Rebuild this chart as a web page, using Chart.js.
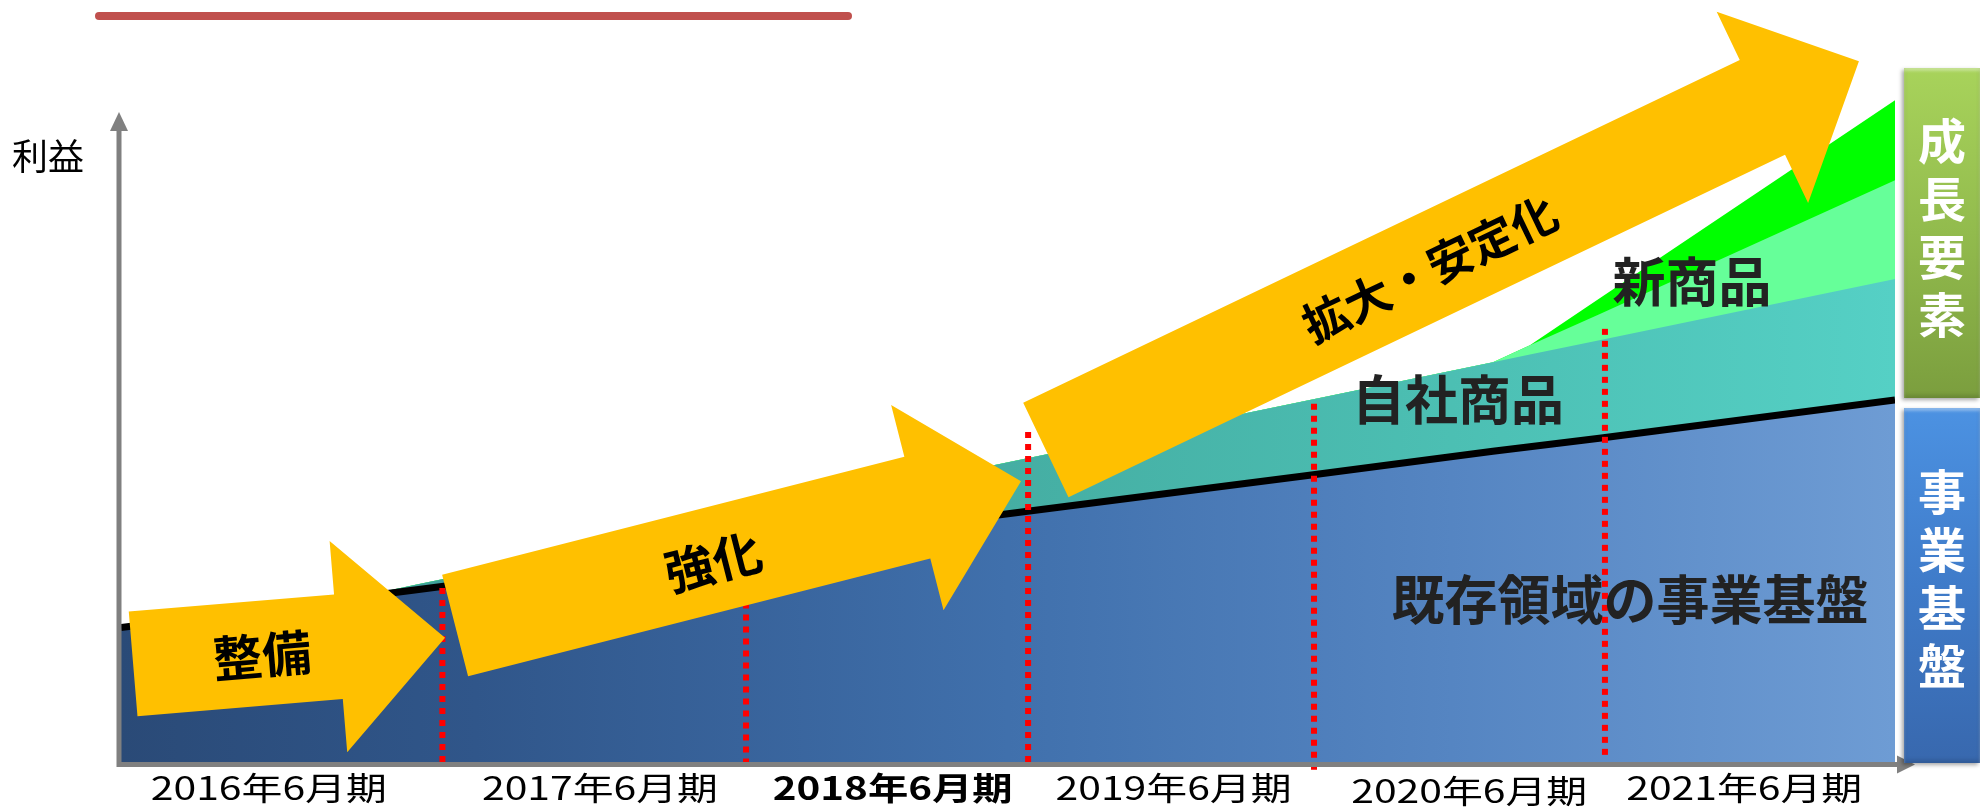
<!DOCTYPE html>
<html lang="ja">
<head>
  <meta charset="UTF-8" />
  <title>利益の成長イメージ</title>
  <script src="https://cdn.jsdelivr.net/npm/chart.js"></script>
  <style>
    html, body {
      margin: 0;
      padding: 0;
      background: #fff;
    }
    body {
      width: 1980px;
      height: 810px;
      overflow: hidden;
      font-family: "Noto Sans CJK JP", sans-serif;
    }
    #wrap {
      position: relative;
      width: 1980px;
      height: 810px;
    }
    #wrap canvas {
      position: absolute;
      left: 0;
      top: 0;
    }
    .title-rule {
      position: absolute;
      left: 95px;
      top: 12px;
      width: 757px;
      height: 8px;
      border-radius: 4px;
      background: #c0504d;
    }
    .y-title {
      position: absolute;
      left: 12px;
      top: 136px;
      font-size: 36px;
      line-height: 36px;
      color: #000;
    }
    .side {
      position: absolute;
      left: 1904px;
      width: 76px;
      box-sizing: border-box;
      color: #fff;
      font-weight: 700;
      font-size: 48px;
      line-height: 58px;
      text-align: center;
      box-shadow: -2px 2px 4px rgba(0, 0, 0, 0.35), inset 0 3px 3px rgba(255, 255, 255, 0.35), inset 0 -3px 4px rgba(0, 0, 0, 0.15);
    }
    .side.growth {
      top: 68px;
      height: 330px;
      padding-top: 41px;
      background: linear-gradient(#a8d35b, #92bb4d 50%, #7b9e3e);
    }
    .side.base {
      top: 408px;
      height: 355px;
      padding-top: 52px;
      background: linear-gradient(#4c92e2, #3f7bc9 50%, #3868ae);
    }
  </style>
</head>
<body>
  <div id="wrap">
    <canvas id="profitChart"></canvas>
    <div class="title-rule"></div>
    <div class="y-title">利益</div>
    <div class="side growth">成<br>長<br>要<br>素</div>
    <div class="side base">事<br>業<br>基<br>盤</div>
  </div>

  <script>
    // 決算期（x軸の目盛り）
    const periods = ["2016年6月期", "2017年6月期", "2018年6月期", "2019年6月期", "2020年6月期", "2021年6月期"];
    const periodCenters = [0.50, 1.62, 2.61, 3.56, 4.56, 5.49];
    const boldPeriod = 2;

    // 各層の値（積み上げ）
    const xs = [0, 0.795, 1, 2, 3, 4, 4.64, 4.765, 5, 6];
    const existingBase = [20.7, 25.3, 26.5, 32.4, 38.2, 44.0, 47.8, 48.5, 49.8, 55.7];
    const ownProducts = [0, 0, 0.8, 4.3, 7.9, 11.5, 13.7, 14.2, 15.1, 18.6];
    const newProducts = [0, 0, 0, 0, 0, 0, 0, 1.4, 4.0, 15.2];
    const growthExtra = [0, 0, 0, 0, 0, 0, 0, 0, 2.4, 12.3];

    // 期の区切り（赤点線）
    const dividerX = [1.087, 2.114, 3.068, 4.035, 5.019];
    const dividerTop = [27.2, 33.1, 51.4, 55.7, 67.2];
    const dividerBottom = [0, -0.4, 0, -1.2, 1.1];

    // 矢印（根元と先端）
    const arrowText = ["整備", "強化", "拡大・安定化"];
    const arrowFrom = [[0.041, 15.1], [1.130, 21.0], [3.128, 48.0]];
    const arrowTo = [[1.096, 19.1], [3.044, 43.2], [5.878, 107.8]];
    const arrowTextAt = [0.413, 0.455, 0.471];

    // 層のラベル
    const layerText = ["自社商品", "新商品", "既存領域の事業基盤"];
    const layerTextX = [4.522, 5.313, 5.104];
    const layerTextY = [55.7, 73.8, 24.9];

    const FONT = '"Noto Sans CJK JP", "Noto Sans CJK SC", sans-serif';

    function hGradient(stops) {
      return (context) => {
        const { ctx, chartArea } = context.chart;
        if (!chartArea) return stops[0][1];
        const g = ctx.createLinearGradient(chartArea.left, 0, chartArea.right, 0);
        stops.forEach(([o, c]) => g.addColorStop(o, c));
        return g;
      };
    }

    function points(values) {
      return xs.map((x, i) => ({ x, y: values[i] }));
    }

    function drawArrow(ctx, t, p) {
      const shaft = 52.5, head = 106, headLen = 107;
      const dx = p[0] - t[0], dy = p[1] - t[1];
      const len = Math.hypot(dx, dy);
      const ux = dx / len, uy = dy / len;
      const nx = -uy, ny = ux;
      const sx = p[0] - ux * headLen, sy = p[1] - uy * headLen;
      ctx.beginPath();
      ctx.moveTo(t[0] + nx * shaft, t[1] + ny * shaft);
      ctx.lineTo(sx + nx * shaft, sy + ny * shaft);
      ctx.lineTo(sx + nx * head, sy + ny * head);
      ctx.lineTo(p[0], p[1]);
      ctx.lineTo(sx - nx * head, sy - ny * head);
      ctx.lineTo(sx - nx * shaft, sy - ny * shaft);
      ctx.lineTo(t[0] - nx * shaft, t[1] - ny * shaft);
      ctx.closePath();
      ctx.fill();
    }

    const overlay = {
      id: "overlay",
      afterDatasetsDraw(chart) {
        const { ctx, chartArea, scales: { x, y } } = chart;

        // 赤点線
        ctx.save();
        ctx.strokeStyle = "#ff0000";
        ctx.lineWidth = 6;
        ctx.setLineDash([6, 6]);
        dividerX.forEach((v, i) => {
          const px = x.getPixelForValue(v);
          ctx.beginPath();
          ctx.moveTo(px, y.getPixelForValue(dividerBottom[i]));
          ctx.lineTo(px, y.getPixelForValue(dividerTop[i]));
          ctx.stroke();
        });
        ctx.restore();

        // 軸（矢印）
        ctx.save();
        ctx.strokeStyle = "#808080";
        ctx.fillStyle = "#808080";
        ctx.lineWidth = 5;
        const ax = chartArea.left - 2;
        const ay = chartArea.bottom + 2.5;
        const topY = y.getPixelForValue(100);
        ctx.beginPath();
        ctx.moveTo(ax, ay + 2.5);
        ctx.lineTo(ax, topY + 18);
        ctx.moveTo(ax - 2.5, ay);
        ctx.lineTo(chartArea.right + 4, ay);
        ctx.stroke();
        ctx.beginPath();
        ctx.moveTo(ax, topY);
        ctx.lineTo(ax - 9, topY + 19);
        ctx.lineTo(ax + 9, topY + 19);
        ctx.closePath();
        ctx.fill();
        ctx.beginPath();
        ctx.moveTo(chartArea.right + 20, ay);
        ctx.lineTo(chartArea.right + 2, ay - 9);
        ctx.lineTo(chartArea.right + 2, ay + 9);
        ctx.closePath();
        ctx.fill();
        ctx.restore();

        // 黄色の矢印と文字
        ctx.save();
        arrowText.forEach((label, i) => {
          const t = [x.getPixelForValue(arrowFrom[i][0]), y.getPixelForValue(arrowFrom[i][1])];
          const p = [x.getPixelForValue(arrowTo[i][0]), y.getPixelForValue(arrowTo[i][1])];
          ctx.fillStyle = "#ffc000";
          drawArrow(ctx, t, p);
          const f = arrowTextAt[i];
          const angle = Math.atan2(p[1] - t[1], p[0] - t[0]);
          ctx.save();
          ctx.translate(t[0] + (p[0] - t[0]) * f, t[1] + (p[1] - t[1]) * f);
          ctx.rotate(angle);
          ctx.fillStyle = "#000";
          ctx.font = "700 " + (i === 2 ? 46 : 49) + "px " + FONT;
          ctx.textAlign = "center";
          ctx.textBaseline = "middle";
          ctx.fillText(label, 0, 2);
          ctx.restore();
        });
        ctx.restore();

        // 層のラベル
        ctx.save();
        ctx.fillStyle = "#222";
        ctx.font = "700 53px " + FONT;
        ctx.textAlign = "center";
        ctx.textBaseline = "middle";
        layerText.forEach((label, i) => {
          ctx.fillText(label, x.getPixelForValue(layerTextX[i]), y.getPixelForValue(layerTextY[i]));
        });
        ctx.restore();

        // x軸の目盛りラベル
        ctx.save();
        ctx.fillStyle = "#000";
        ctx.textAlign = "center";
        ctx.textBaseline = "alphabetic";
        periods.forEach((label, i) => {
          const bold = i === boldPeriod;
          ctx.font = (bold ? "700 " : "400 ") + "32px " + FONT;
          const w = ctx.measureText(label).width;
          const sx = (bold ? 240 : 236) / w;
          ctx.save();
          ctx.translate(x.getPixelForValue(periodCenters[i]), chartArea.bottom + 38 + (i === 4 ? 3 : 0));
          ctx.scale(sx, 1);
          ctx.fillText(label, 0, 0);
          ctx.restore();
        });
        ctx.restore();
      }
    };

    function makeChart() {
      const ctx = document.getElementById("profitChart").getContext("2d");
      new Chart(ctx, {
        type: "line",
        data: {
          datasets: [
            {
              label: "既存領域の事業基盤",
              data: points(existingBase),
              borderColor: "#000",
              borderWidth: 7,
              backgroundColor: hGradient([[0, "#2a4a77"], [0.2, "#30568a"], [0.5, "#4070ac"], [0.75, "#5585c2"], [1, "#6e9cd4"]]),
              fill: "origin"
            },
            {
              label: "自社商品",
              data: points(ownProducts),
              borderWidth: 0,
              backgroundColor: hGradient([[0, "#3a9a96"], [0.5, "#45aea3"], [0.75, "#4cbfb3"], [1, "#55d0c5"]]),
              fill: "origin"
            },
            {
              label: "新商品",
              data: points(newProducts),
              borderWidth: 0,
              backgroundColor: "#66ff99",
              fill: "origin"
            },
            {
              label: "成長要素",
              data: points(growthExtra),
              borderWidth: 0,
              backgroundColor: "#00ff00",
              fill: "origin"
            }
          ]
        },
        options: {
          responsive: true,
          maintainAspectRatio: false,
          animation: false,
          layout: { padding: { left: 121, right: 85, top: 47, bottom: 48 } },
          elements: {
            point: { radius: 0, hoverRadius: 0 },
            line: { tension: 0 }
          },
          plugins: {
            legend: { display: false },
            tooltip: { enabled: false }
          },
          scales: {
            x: { type: "linear", min: 0, max: 6, display: false },
            y: { stacked: true, min: 0, max: 110, display: false }
          }
        },
        plugins: [overlay]
      });
    }

    const fontsReady = document.fonts
      ? Promise.all([
          document.fonts.load('700 50px "Noto Sans CJK JP"'),
          document.fonts.load('400 30px "Noto Sans CJK JP"')
        ]).catch(() => {})
      : Promise.resolve();
    fontsReady.then(makeChart);
  </script>
</body>
</html>
